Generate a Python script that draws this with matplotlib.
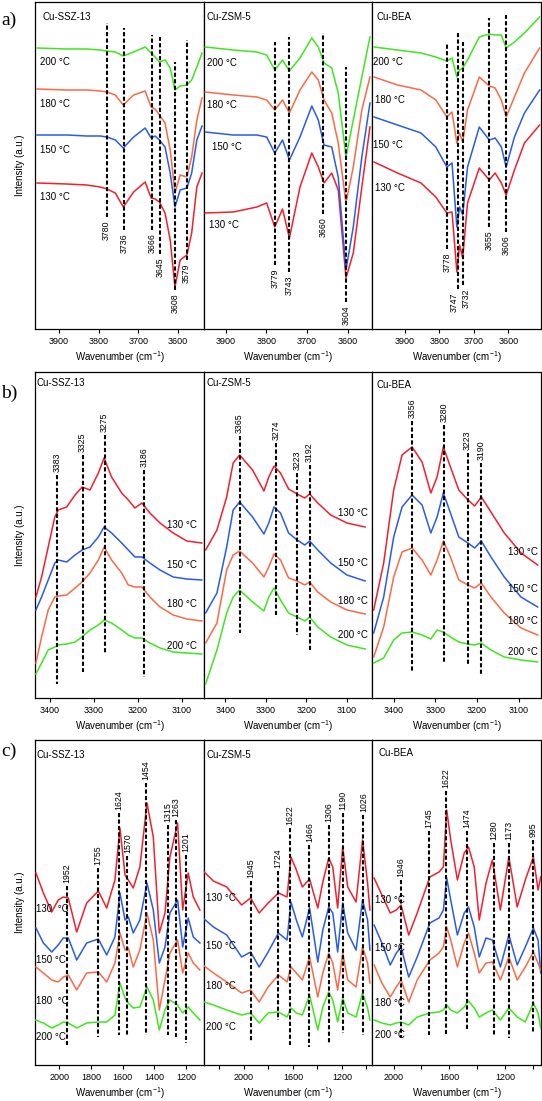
import matplotlib
matplotlib.use("Agg")
import matplotlib.pyplot as plt
import matplotlib.transforms as mtransforms
from matplotlib.ticker import FixedLocator, NullLocator

plt.rcParams['font.family'] = ['Liberation Sans', 'DejaVu Sans']
plt.rcParams['font.size'] = 6.5

# ---- data (intensity in arbitrary units) ----
temps = ["130", "150", "180", "200"]
temp_colors = {"130": "#f2202f", "150": "#2a5ce6", "180": "#fb6a47", "200": "#3fe61f"}
samples = ["Cu-SSZ-13", "Cu-ZSM-5", "Cu-BEA"]

# a) OH stretching region
ssz_oh_wn = [3955, 3880, 3830, 3796, 3779, 3758, 3738, 3712, 3683, 3668, 3658, 3647, 3633, 3620,
             3608, 3595, 3578, 3566, 3553, 3540]
ssz_oh = {
    "130": [146, 145, 144, 142, 140, 136, 122, 137, 147, 131, 130, 127, 116, 89, 42, 69, 74, 96, 142, 156],
    "150": [194, 194, 193, 193, 192, 189, 181, 192, 201, 191, 193, 189, 182, 156, 122, 139, 141, 156, 189, 203],
    "180": [240, 239, 239, 238, 237, 234, 224, 234, 238, 222, 220, 214, 206, 179, 136, 154, 152, 172, 209, 231],
    "200": [281, 280, 280, 279, 278, 277, 273, 277, 282, 276, 272, 267, 269, 261, 239, 243, 244, 249, 262, 276],
}
ssz_oh_peaks = [3780, 3736, 3666, 3645, 3608, 3579]

zsm_oh_wn = [3950, 3881, 3823, 3799, 3779, 3760, 3743, 3717, 3688, 3672, 3658, 3639, 3623, 3604,
             3586, 3565, 3545]
zsm_oh = {
    "130": [116, 117, 122, 126, 102, 120, 91, 142, 176, 162, 146, 156, 139, 51, 76, 142, 202],
    "150": [197, 194, 194, 192, 176, 189, 169, 192, 223, 209, 184, 182, 152, 59, 102, 172, 226],
    "180": [237, 234, 232, 229, 219, 229, 216, 239, 257, 249, 229, 216, 186, 126, 162, 219, 252],
    "200": [282, 279, 277, 274, 259, 269, 258, 271, 291, 282, 266, 261, 236, 172, 209, 252, 292],
}
zsm_oh_peaks = [3779, 3743, 3660, 3604]

bea_oh_wn = [3989, 3921, 3853, 3810, 3778, 3763, 3749, 3741, 3732, 3718, 3684, 3655, 3638, 3620,
             3606, 3582, 3553, 3509]
bea_oh = {
    "130": [167, 156, 146, 132, 116, 117, 57, 84, 71, 126, 161, 149, 156, 146, 134, 159, 186, 204],
    "150": [212, 204, 196, 182, 162, 166, 102, 122, 114, 162, 202, 189, 191, 182, 162, 192, 216, 239],
    "180": [252, 244, 239, 229, 212, 217, 186, 196, 187, 219, 252, 243, 241, 229, 212, 232, 256, 281],
    "200": [282, 279, 276, 272, 268, 271, 252, 259, 261, 269, 292, 295, 294, 294, 281, 287, 296, 312],
}
bea_oh_peaks = [3778, 3747, 3732, 3655, 3606]

# b) NH stretching region
ssz_nh_wn = [3431, 3418, 3403, 3388, 3380, 3361, 3342, 3326, 3308, 3289, 3276, 3259, 3236, 3221,
             3206, 3190, 3172, 3149, 3119, 3088, 3054]
ssz_nh = {
    "130": [101, 121, 151, 181, 188, 191, 203, 211, 208, 225, 240, 221, 205, 198, 190, 195, 185, 175, 165, 157, 155],
    "150": [88, 101, 118, 135, 138, 136, 143, 148, 151, 161, 171, 165, 155, 148, 141, 141, 135, 128, 121, 119, 118],
    "180": [35, 61, 88, 101, 102, 103, 110, 116, 125, 138, 151, 138, 125, 113, 111, 111, 101, 91, 83, 79, 77],
    "200": [24, 35, 48, 51, 53, 54, 56, 61, 68, 73, 78, 75, 68, 63, 60, 60, 55, 50, 46, 45, 44],
}
ssz_nh_peaks = [3383, 3325, 3275, 3186]

zsm_nh_wn = [3449, 3421, 3397, 3381, 3365, 3333, 3305, 3293, 3280, 3264, 3244, 3223, 3204, 3192,
             3172, 3140, 3100, 3055]
zsm_nh = {
    "130": [148, 168, 201, 235, 243, 228, 207, 221, 232, 225, 209, 204, 200, 204, 195, 183, 175, 171],
    "150": [85, 105, 151, 188, 196, 181, 164, 175, 191, 185, 165, 158, 153, 157, 148, 135, 123, 117],
    "180": [55, 75, 128, 143, 147, 135, 121, 131, 144, 138, 120, 117, 113, 116, 106, 96, 88, 84],
    "200": [14, 48, 85, 101, 108, 96, 87, 101, 110, 98, 85, 81, 77, 81, 71, 61, 53, 49],
}
zsm_nh_peaks = [3365, 3274, 3223, 3192]

bea_nh_wn = [3448, 3424, 3400, 3380, 3356, 3332, 3311, 3296, 3281, 3264, 3244, 3222, 3206, 3190,
             3167, 3135, 3095, 3055]
bea_nh = {
    "130": [88, 135, 208, 243, 251, 236, 205, 221, 251, 231, 208, 198, 192, 201, 186, 165, 145, 133],
    "150": [65, 101, 161, 191, 203, 193, 165, 181, 205, 185, 161, 155, 150, 157, 141, 121, 101, 91],
    "180": [41, 71, 121, 146, 150, 138, 123, 138, 157, 141, 118, 113, 110, 115, 101, 85, 70, 63],
    "200": [35, 40, 58, 65, 66, 63, 59, 68, 66, 61, 56, 54, 53, 55, 48, 41, 38, 36],
}
bea_nh_peaks = [3356, 3280, 3223, 3190]

# c) low wavenumber region
ssz_lo_wn = [2149, 2102, 2049, 2008, 1976, 1944, 1891, 1828, 1754, 1701, 1649, 1617, 1585, 1564,
             1533, 1491, 1446, 1406, 1368, 1332, 1301, 1252, 1220, 1185, 1153, 1111]
ssz_lo = {
    "130": [192, 172, 153, 165, 168, 167, 133, 162, 174, 157, 185, 237, 190, 185, 177, 198, 262, 228, 132, 152, 208, 242, 155, 192, 168, 155],
    "150": [137, 122, 113, 120, 127, 127, 105, 122, 126, 110, 128, 172, 145, 148, 132, 145, 182, 155, 102, 118, 152, 165, 118, 147, 128, 122],
    "180": [98, 92, 85, 83, 88, 90, 75, 92, 93, 83, 102, 132, 115, 117, 98, 115, 152, 125, 55, 85, 112, 125, 92, 112, 102, 95],
    "200": [45, 42, 37, 40, 43, 42, 37, 42, 43, 43, 50, 82, 67, 62, 57, 58, 78, 65, 35, 55, 65, 60, 52, 58, 52, 45],
}
ssz_lo_peaks = [1952, 1755, 1624, 1570, 1454, 1315, 1263, 1201]

zsm_lo_wn = [2324, 2248, 2140, 2018, 1945, 1875, 1802, 1718, 1648, 1616, 1572, 1523, 1464, 1397,
             1356, 1308, 1275, 1235, 1194, 1153, 1085, 1032, 991, 972]
zsm_lo = {
    "130": [193, 184, 178, 160, 167, 152, 162, 172, 168, 208, 195, 178, 186, 157, 183, 207, 198, 157, 218, 178, 163, 225, 182, 155],
    "150": [146, 138, 130, 108, 113, 98, 113, 132, 125, 163, 145, 128, 157, 103, 135, 158, 152, 113, 162, 132, 115, 165, 145, 115],
    "180": [99, 92, 83, 72, 75, 63, 78, 90, 83, 98, 92, 85, 108, 68, 92, 112, 102, 75, 112, 85, 78, 118, 102, 82],
    "200": [63, 60, 55, 50, 52, 42, 52, 53, 48, 57, 52, 50, 70, 35, 58, 73, 65, 43, 67, 52, 48, 72, 57, 45],
}
zsm_lo_peaks = [1945, 1724, 1622, 1466, 1306, 1190, 1026]

bea_lo_wn = [2140, 2084, 2024, 1980, 1946, 1891, 1830, 1739, 1673, 1642, 1618, 1589, 1541, 1492,
             1461, 1420, 1384, 1335, 1290, 1232, 1171, 1111, 1053, 995, 961, 942]
bea_lo = {
    "130": [187, 170, 152, 155, 160, 130, 152, 188, 193, 198, 255, 225, 185, 212, 218, 198, 145, 182, 205, 155, 208, 158, 185, 208, 175, 188],
    "150": [140, 122, 100, 112, 118, 88, 108, 142, 147, 155, 187, 165, 130, 152, 158, 138, 108, 127, 125, 98, 130, 100, 118, 137, 125, 92],
    "180": [100, 82, 68, 78, 85, 63, 85, 105, 112, 118, 138, 125, 98, 122, 132, 112, 92, 102, 103, 85, 108, 85, 98, 113, 102, 95],
    "200": [45, 42, 40, 42, 43, 40, 48, 52, 53, 55, 60, 55, 52, 58, 64, 57, 48, 52, 55, 45, 57, 48, 43, 62, 52, 37],
}
bea_lo_peaks = [1946, 1745, 1622, 1474, 1280, 1173, 995]

# ---- layout (figure pixels) ----
W, H = 542, 1101
rows_px = [(2, 329), (372, 698), (740, 1065)]
cols_px = [(35, 204), (204, 372), (372, 541)]
row_letters = [("a)", 20), ("b)", 393), ("c)", 751)]

# per panel: data, xlim, ticks, dashed-line far end / label anchor, temperature label spots
panels = [
    # row a: labels under the dashed lines, temperatures on the left
    dict(wn=ssz_oh_wn, y=ssz_oh, peaks=ssz_oh_peaks, xlim=(3960, 3535),
         major=[3900, 3800, 3700, 3600], minor=[],
         far=[306, 301, 294, 292, 267, 289], anchor=[109, 96, 96, 72, 36, 66],
         tx={t: 0.03 for t in temps}, ty={"130": 132, "150": 179, "180": 225, "200": 267},
         title=(0.047, 312)),
    dict(wn=zsm_oh_wn, y=zsm_oh, peaks=zsm_oh_peaks, xlim=(3953, 3540),
         major=[3900, 3800, 3700, 3600], minor=[],
         far=[287, 292, 296, 262], anchor=[61, 54, 112, 24],
         tx={"130": 0.03, "150": 0.048, "180": 0.018, "200": 0.018},
         ty={"130": 104, "150": 182, "180": 224, "200": 266}, title=(0.012, 312)),
    dict(wn=bea_oh_wn, y=bea_oh, peaks=bea_oh_peaks, xlim=(3995, 3505),
         major=[3900, 3800, 3700, 3600], minor=[],
         far=[286, 296, 287, 311, 314], anchor=[77, 37, 41, 99, 94],
         shift={3747: -2.2, 3732: 2.2},
         tx={"130": 0.018, "150": 0.006, "180": 0.018, "200": 0.006},
         ty={"130": 141, "150": 184, "180": 229, "200": 267}, title=(0.028, 312)),
    # row b: labels above, temperatures on the right
    dict(wn=ssz_nh_wn, y=ssz_nh, peaks=ssz_nh_peaks, xlim=(3433, 3049),
         major=[3400, 3300, 3200, 3100], minor=[],
         far=[14, 26, 44, 21], anchor=[226, 246, 266, 231],
         tx={t: 0.96 for t in temps}, ty={"130": 173, "150": 133, "180": 94, "200": 52},
         title=(0.01, 315)),
    dict(wn=zsm_nh_wn, y=zsm_nh, peaks=zsm_nh_peaks, xlim=(3453, 3038),
         major=[3400, 3300, 3200, 3100], minor=[],
         far=[65, 83, 63, 46], anchor=[265, 258, 228, 236],
         tx={t: 0.976 for t in temps}, ty={"130": 185, "150": 135, "180": 97, "200": 63},
         title=(0.016, 315)),
    dict(wn=bea_nh_wn, y=bea_nh, peaks=bea_nh_peaks, xlim=(3452, 3047),
         major=[3400, 3300, 3200, 3100], minor=[],
         far=[27, 35, 33, 23], anchor=[280, 276, 248, 238],
         tx={t: 0.982 for t in temps}, ty={"130": 146, "150": 109, "180": 77, "200": 46},
         title=(0.028, 313)),
    # row c: labels above, temperatures on the left
    dict(wn=ssz_lo_wn, y=ssz_lo, peaks=ssz_lo_peaks, xlim=(2155, 1085),
         major=[2000, 1800, 1600, 1400, 1200], minor=[],
         far=[20, 28, 30, 30, 30, 30, 28, 22], anchor=[182, 200, 255, 212, 285, 243, 248, 213],
         tx={t: 0.005 for t in temps}, ty={"130": 156, "150": 105, "180": 64, "200": 28},
         title=(0.01, 310)),
    dict(wn=zsm_lo_wn, y=zsm_lo, peaks=zsm_lo_peaks, xlim=(2325, 955),
         major=[2000, 1600, 1200], minor=[2200, 1800, 1400, 1000],
         far=[23, 45, 20, 18, 22, 32, 30], anchor=[187, 197, 240, 223, 243, 255, 253],
         tx={t: 0.012 for t in temps}, ty={"130": 167, "150": 119, "180": 79, "200": 38},
         title=(0.016, 310)),
    dict(wn=bea_lo_wn, y=bea_lo, peaks=bea_lo_peaks, xlim=(2155, 940),
         major=[2000, 1600, 1200], minor=[1800, 1400, 1000],
         far=[27, 30, 30, 35, 30, 27, 32], anchor=[188, 237, 277, 237, 225, 225, 228],
         tx={t: 0.018 for t in temps}, ty={"130": 165, "150": 117, "180": 62, "200": 30},
         title=(0.036, 312)),
]

fig = plt.figure(figsize=(W / 100, H / 100), dpi=100)

for i, p in enumerate(panels):
    r, c = divmod(i, 3)
    top, bot = rows_px[r]
    left, right = cols_px[c]
    ax = fig.add_axes([left / W, 1 - bot / H, (right - left) / W, (bot - top) / H])
    ax.set_xlim(*p["xlim"])
    ax.set_ylim(0, bot - top)

    for t in temps:
        ax.plot(p["wn"], p["y"][t], color=temp_colors[t], lw=1.1, zorder=3)

    # dashed marker lines with their wavenumber labels
    shift = p.get("shift", {})
    for wn, far, anc in zip(p["peaks"], p["far"], p["anchor"]):
        if r == 0:
            near, va = anc + 3, "top"
        else:
            near, va = anc - 3, "bottom"
        ax.plot([wn, wn], [near, far], color="black", lw=1.5, ls=(0, (2.0, 1.1)), zorder=4)
        tr = mtransforms.offset_copy(ax.transData, fig=fig, x=shift.get(wn, 0), y=0,
                                     units="points")
        ax.text(wn, anc, str(wn), rotation=90, ha="center", va=va, fontsize=6.3,
                transform=tr)

    # temperature labels
    trans = mtransforms.blended_transform_factory(ax.transAxes, ax.transData)
    for t in temps:
        txt = t + " °C"
        if i == 6 and t in ("130", "180"):
            txt = t + "  °C"
        ax.text(p["tx"][t], p["ty"][t], txt, transform=trans,
                ha="right" if r == 1 else "left", va="center", fontsize=7)

    ax.text(p["title"][0], p["title"][1], samples[c], transform=trans,
            ha="left", va="center", fontsize=7)

    ax.xaxis.set_major_locator(FixedLocator(p["major"]))
    if p["minor"]:
        ax.xaxis.set_minor_locator(FixedLocator(p["minor"]))
    else:
        ax.xaxis.set_minor_locator(NullLocator())
    ax.set_yticks([])
    ax.tick_params(axis="x", which="both", direction="out", length=3, width=0.8,
                   pad=2.5, labelsize=6.5)
    for s in ax.spines.values():
        s.set_linewidth(0.9)
    ax.set_xlabel("Wavenumber (cm$^{\\mathregular{-1}}$)", fontsize=7, labelpad=2.5)
    if c == 0:
        ax.set_ylabel("Intensity (a.u.)", fontsize=7)
        ax.yaxis.set_label_coords(-0.062, 0.5)

for letter, ypx in row_letters:
    fig.text(9 / W, 1 - ypx / H, letter, family=["Liberation Serif", "DejaVu Serif"],
             fontsize=14, ha="center", va="center")

fig.savefig("out.png", dpi=100)
